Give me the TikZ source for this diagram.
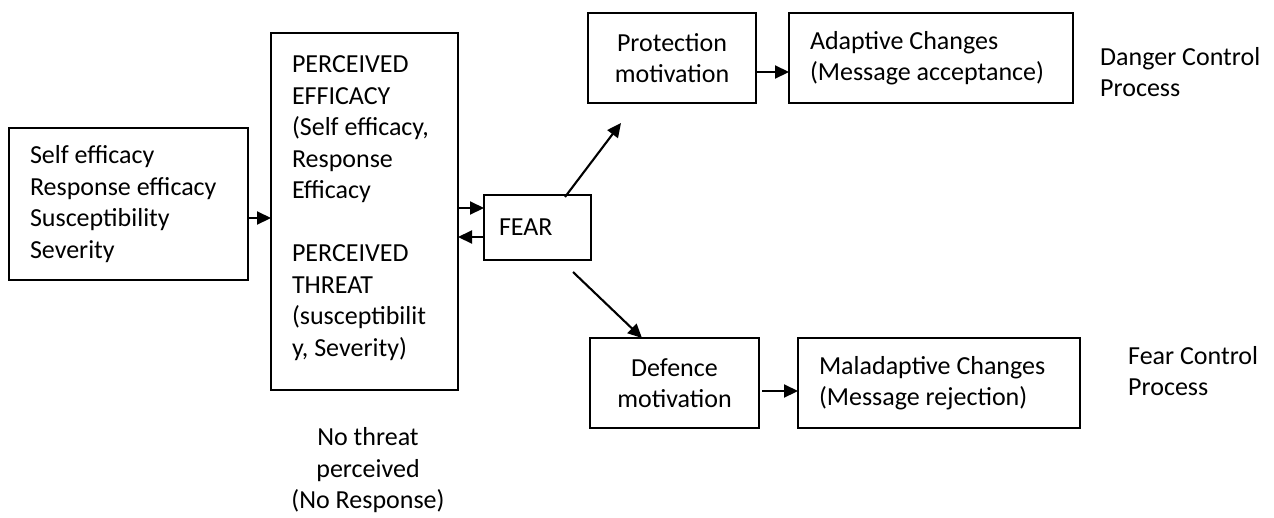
\documentclass[tikz,border=0pt]{standalone}
\usepackage{fontspec}
\setmainfont{Carlito}
\usetikzlibrary{arrows.meta}
\newcommand\fsz{\fontsize{26}{31.5}\selectfont}
\begin{document}
\begin{tikzpicture}[x=1pt,y=-1pt,
  box/.style={draw, line width=1.9pt, rectangle, anchor=north west, outer sep=0pt,
              inner xsep=21pt, inner ysep=0pt, font=\fsz},
  lbox/.style={box, align=flush left},
  cbox/.style={box, align=flush center},
  plain/.style={inner sep=0pt, font=\fsz},
  arr/.style={-{Triangle[length=14pt,width=13pt]}, line width=2.1pt},
]
\useasboundingbox (0,0) rectangle (1274,517);

% boxes
\node[lbox, text width=197pt, minimum height=152pt] (b1) at (9,128)
  {Self efficacy\\Response efficacy\\Susceptibility\\Severity};
\node[lbox, text width=145pt, minimum height=357pt] (b2) at (271,33)
  {PERCEIVED\\EFFICACY\\(Self efficacy,\\Response\\Efficacy\\\mbox{}\\PERCEIVED\\THREAT\\(susceptibilit\\y, Severity)\\[-21pt]\mbox{}};
\node[lbox, inner xsep=15pt, text width=77pt, minimum height=65pt] (fear) at (484,195) {FEAR};
\node[cbox, text width=126pt, minimum height=90pt] (prot) at (588,13) {Protection\\motivation};
\node[lbox, text width=242pt, minimum height=90pt] (adapt) at (789,13) {Adaptive Changes\\(Message acceptance)};
\node[cbox, text width=127pt, minimum height=90pt] (def) at (590,338) {Defence\\motivation};
\node[lbox, text width=240pt, minimum height=90pt] (mal) at (798,338) {Maladaptive Changes\\(Message rejection)};

% free texts
\node[plain, anchor=west, align=left] (dcp) at (1100,72) {Danger Control\\Process};
\node[plain, anchor=west, align=left] (fcp) at (1128,371) {Fear Control\\Process};
\node[plain, align=center] (nt) at (368,470.5) {No threat\\perceived\\(No Response)};

% free ends
\coordinate (pTip) at (621,123);
\coordinate (dStart) at (573,272);

% connectors
\draw[arr] ([yshift=-14pt]b1.east) -- ([yshift=-14pt]b1.east -| b2.west);
\draw[arr] ([yshift=19.5pt]fear.west -| b2.east) -- ([yshift=19.5pt]fear.west);
\draw[arr] ([yshift=-9.5pt]fear.west) -- ([yshift=-9.5pt]fear.west -| b2.east);
\draw[arr] ([xshift=27.5pt,yshift=-2pt]fear.north) -- (pTip);
\draw[arr] (dStart) -- ([xshift=-32.5pt]def.north);
\draw[arr] ([yshift=-14pt]prot.east) -- ([yshift=-14pt]prot.east -| adapt.west);
\draw[arr] ([xshift=3pt,yshift=-8pt]def.east) -- ([yshift=-8pt]def.east -| mal.west);
\end{tikzpicture}
\end{document}
